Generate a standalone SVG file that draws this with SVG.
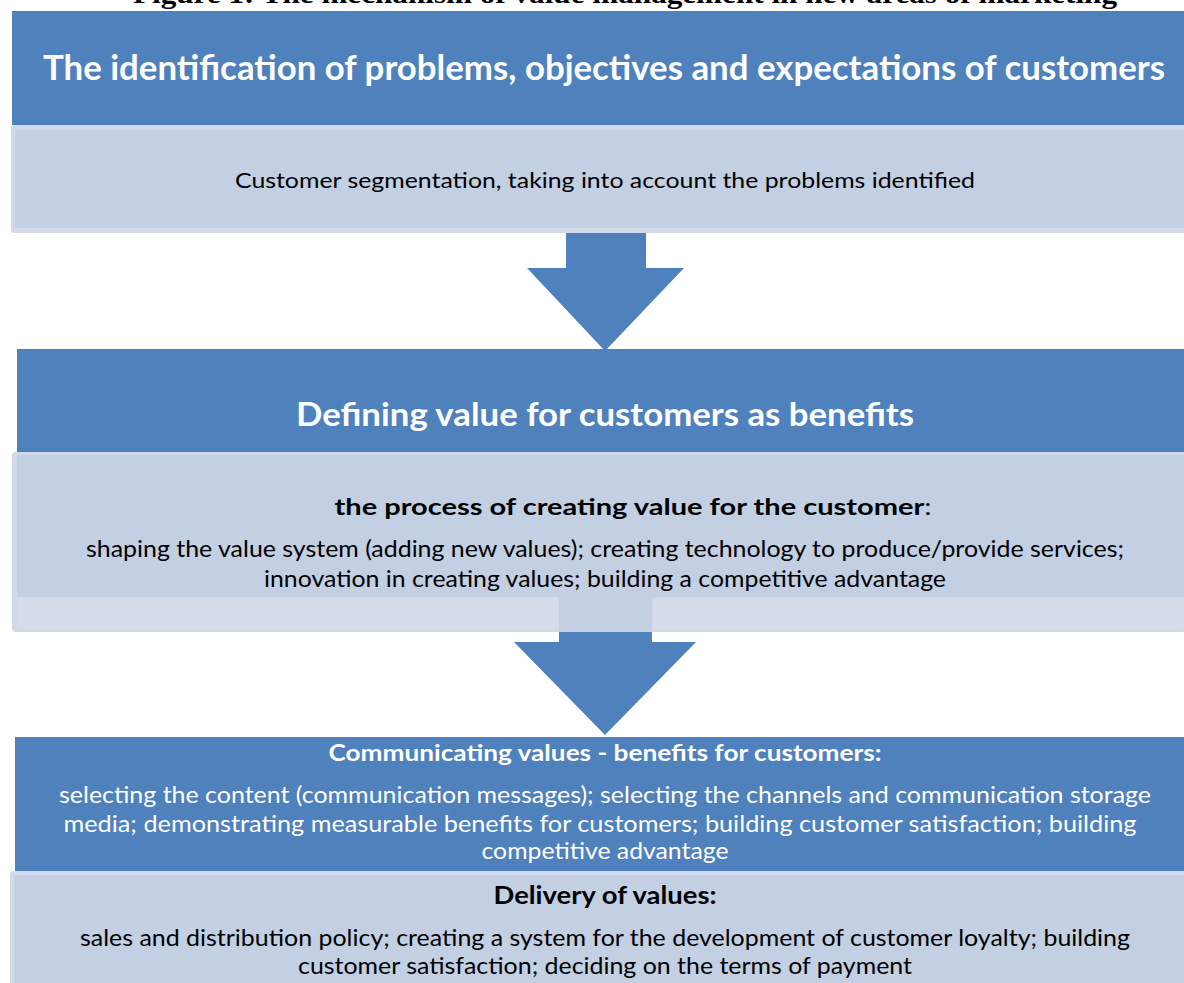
<svg xmlns="http://www.w3.org/2000/svg" width="1184" height="983" viewBox="0 0 1184 983">
  <style>
    .dark { fill: #4F81BD; }
    .pale { fill: #D2DAE9; }
    .light { fill: #C3CFE2; }
    .band { fill: #D5DDEB; }
    .arrow { fill: #4F81BD; }
    text { font-family: Lato, "Open Sans", "Liberation Sans", sans-serif; text-anchor: middle; }
    .head { font-weight: bold; fill: #FFFFFF; }
    .wt { fill: #FFFFFF; }
    .bk { fill: #000000; }
    .bb { font-weight: bold; fill: #000000; }
    .cap { font-family: "Liberation Serif", serif; font-weight: bold; fill: #000000; }
  </style>

  <rect width="1184" height="983" fill="#FFFFFF"/>

  <!-- caption, clipped at the top edge -->
  <text class="cap" x="625" y="3" font-size="27" textLength="984" lengthAdjust="spacingAndGlyphs">Figure 1: The mechanism of value management in new areas of marketing</text>

  <!-- stage 1 -->
  <g id="stage-identification">
    <rect class="dark" x="12" y="11" width="1172" height="114"/>
    <text class="head" x="604" y="80" font-size="34" textLength="1122" lengthAdjust="spacingAndGlyphs">The identification of problems, objectives and expectations of customers</text>
  </g>
  <g id="stage-segmentation">
    <rect class="pale" x="11" y="125" width="1180" height="108" rx="3"/>
    <rect class="light" x="15" y="130" width="1169" height="98"/>
    <text class="bk" x="605" y="188" font-size="22" textLength="740" lengthAdjust="spacingAndGlyphs">Customer segmentation, taking into account the problems identified</text>
  </g>

  <!-- stage 2 -->
  <g id="stage-defining">
    <rect class="dark" x="17" y="349" width="1167" height="103"/>
    <text class="head" x="605" y="426" font-size="33" textLength="618" lengthAdjust="spacingAndGlyphs">Defining value for customers as benefits</text>
  </g>
  <g id="stage-creating">
    <rect class="pale" x="12" y="452" width="1180" height="180" rx="3"/>
    <rect class="light" x="17" y="455" width="1167" height="142"/>
    <rect class="band" x="17" y="598" width="540" height="31" rx="3"/>
    <rect class="band" x="653" y="598" width="531" height="31" rx="3"/>
    <rect class="light" x="559" y="597" width="93" height="35"/>
    <text class="bb" x="633" y="515" font-size="23" textLength="597" lengthAdjust="spacingAndGlyphs">the process of creating value for the customer<tspan font-weight="normal">:</tspan></text>
    <text class="bk" x="605" y="557" font-size="23" textLength="1038" lengthAdjust="spacingAndGlyphs">shaping the value system (adding new values); creating technology to produce/provide services;</text>
    <text class="bk" x="605" y="587" font-size="23" textLength="682" lengthAdjust="spacingAndGlyphs">innovation in creating values; building a competitive advantage</text>
  </g>

  <!-- stage 3 -->
  <g id="stage-communicating">
    <rect class="dark" x="15" y="737" width="1169" height="134"/>
    <text class="head" x="605" y="761" font-size="23" textLength="553" lengthAdjust="spacingAndGlyphs">Communicating values - benefits for customers:</text>
    <text class="wt" x="605" y="803" font-size="23" textLength="1092" lengthAdjust="spacingAndGlyphs">selecting the content (communication messages); selecting the channels and communication storage</text>
    <text class="wt" x="600" y="832" font-size="23" textLength="1073" lengthAdjust="spacingAndGlyphs">media; demonstrating measurable benefits for customers; building customer satisfaction; building</text>
    <text class="wt" x="605" y="859" font-size="23" textLength="247" lengthAdjust="spacingAndGlyphs">competitive advantage</text>
  </g>

  <!-- stage 4 -->
  <g id="stage-delivery">
    <rect class="pale" x="10" y="871" width="1180" height="120" rx="3"/>
    <rect class="light" x="14" y="875" width="1170" height="108"/>
    <text class="bb" x="605" y="904" font-size="25" textLength="223" lengthAdjust="spacingAndGlyphs">Delivery of values:</text>
    <text class="bk" x="605" y="946" font-size="23" textLength="1050" lengthAdjust="spacingAndGlyphs">sales and distribution policy; creating a system for the development of customer loyalty; building</text>
    <text class="bk" x="605" y="974" font-size="23" textLength="614" lengthAdjust="spacingAndGlyphs">customer satisfaction; deciding on the terms of payment</text>
  </g>

  <!-- connectors -->
  <g id="connectors">
    <polygon class="arrow" points="566,233 646,233 646,268 684,268 605,351 527,268 566,268"/>
    <polygon class="arrow" points="559,632 652,632 652,642 696,642 605,735 514,642 559,642"/>
  </g>
</svg>
